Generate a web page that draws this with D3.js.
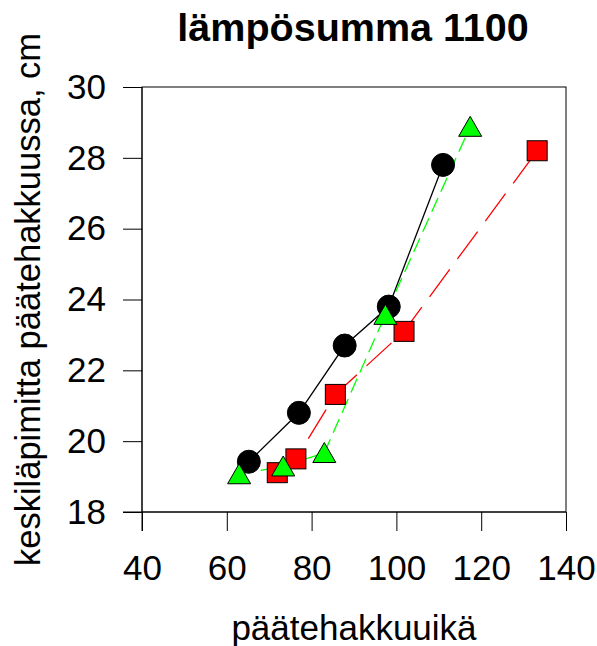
<!DOCTYPE html>
<html>
<head>
<meta charset="utf-8">
<script src="https://cdn.jsdelivr.net/npm/d3@7"></script>
<style>
  body { margin: 0; background: #fff; }
  text { font-family: "Liberation Sans", Arial, sans-serif; fill: #000; }
</style>
</head>
<body>
<div id="chart"></div>
<script>
// data
const circleX = [65.2, 77.0, 87.8, 98.2, 111.0];
const circleY = [19.42, 20.8, 22.7, 23.8, 27.8];
const squareX = [71.9, 76.3, 85.6, 101.8, 133.2];
const squareY = [19.11, 19.5, 21.32, 23.1, 28.2];
const triangleX = [62.9, 73.3, 83.0, 97.4, 117.4];
const triangleY = [19.07, 19.29, 19.67, 23.57, 28.88];
const xTicks = [40, 60, 80, 100, 120, 140];
const yTicks = [18, 20, 22, 24, 26, 28, 30];

const width = 597, height = 646;
const margin = { left: 142, top: 87, right: 31, bottom: 134 };

const svg = d3.select("#chart").append("svg")
    .attr("width", width)
    .attr("height", height);

const x = d3.scaleLinear().domain([40, 140]).range([margin.left, width - margin.right]);
const y = d3.scaleLinear().domain([18, 30]).range([height - margin.bottom, margin.top]);

// frame
svg.append("rect")
    .attr("x", x(40)).attr("y", y(30))
    .attr("width", x(140) - x(40)).attr("height", y(18) - y(30))
    .attr("fill", "none").attr("stroke", "#000").attr("stroke-width", 1);

const tickLen = 19;

// x axis
const xAxis = svg.append("g")
    .attr("transform", `translate(0,${y(18)})`)
    .call(d3.axisBottom(x).tickValues(xTicks).tickSize(tickLen).tickPadding(24));
xAxis.select(".domain").attr("d", `M${x(40) - tickLen},0H${x(140)}`);

// y axis
const yAxis = svg.append("g")
    .attr("transform", `translate(${x(40)},0)`)
    .call(d3.axisLeft(y).tickValues(yTicks).tickSize(tickLen).tickPadding(17));
yAxis.select(".domain").attr("d", `M0,${y(30)}V${y(18) + tickLen}`);

svg.selectAll(".tick text")
    .attr("font-size", 35)
    .attr("font-family", "Liberation Sans, Arial, sans-serif");
svg.selectAll(".tick line, .domain").attr("stroke", "#000");

// titles
svg.append("text")
    .attr("x", 353).attr("y", 41)
    .attr("text-anchor", "middle")
    .attr("font-size", 39.5).attr("font-weight", "bold")
    .text("lämpösumma 1100");

svg.append("text")
    .attr("x", 354).attr("y", 640)
    .attr("text-anchor", "middle")
    .attr("font-size", 35)
    .text("päätehakkuuikä");

svg.append("text")
    .attr("transform", `translate(40,${(y(18) + y(30)) / 2}) rotate(-90)`)
    .attr("text-anchor", "middle")
    .attr("font-size", 34.5)
    .text("keskiläpimitta päätehakkuussa, cm");

// lines
const line = d3.line().x(d => x(d[0])).y(d => y(d[1]));
const circles = circleX.map((v, i) => [v, circleY[i]]);
const squares = squareX.map((v, i) => [v, squareY[i]]);
const triangles = triangleX.map((v, i) => [v, triangleY[i]]);

svg.append("path").datum(circles).attr("d", line)
    .attr("fill", "none").attr("stroke", "#000").attr("stroke-width", 1.3);
svg.append("path").datum(squares).attr("d", line)
    .attr("fill", "none").attr("stroke", "#ff0000").attr("stroke-width", 1.3)
    .attr("stroke-dasharray", "34,13");
svg.append("path").datum(triangles).attr("d", line)
    .attr("fill", "none").attr("stroke", "#00ff00").attr("stroke-width", 1.3)
    .attr("stroke-dasharray", "15,7");

// markers
svg.selectAll(".circ").data(circles).enter().append("circle")
    .attr("cx", d => x(d[0])).attr("cy", d => y(d[1]))
    .attr("r", 11.5).attr("fill", "#000").attr("stroke", "#000");

svg.selectAll(".sq").data(squares).enter().append("rect")
    .attr("x", d => x(d[0]) - 10).attr("y", d => y(d[1]) - 10)
    .attr("width", 20).attr("height", 20)
    .attr("fill", "#ff0000").attr("stroke", "#000").attr("stroke-width", 1);

const tri = d3.symbol().type(d3.symbolTriangle).size(230);
svg.selectAll(".tri").data(triangles).enter().append("path")
    .attr("transform", d => `translate(${x(d[0])},${y(d[1]) + 3})`)
    .attr("d", tri)
    .attr("fill", "#00ff00").attr("stroke", "#000").attr("stroke-width", 1);
</script>
</body>
</html>
